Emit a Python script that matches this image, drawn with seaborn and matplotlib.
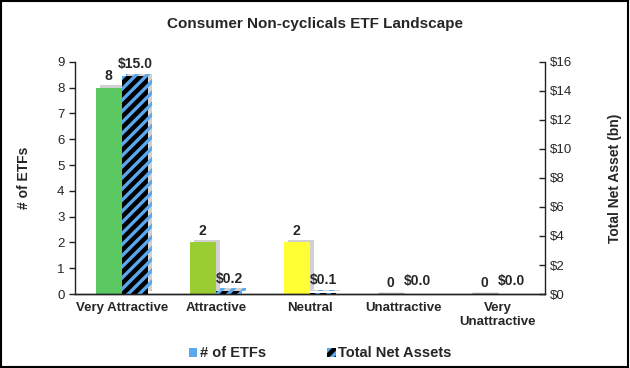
import matplotlib
matplotlib.use("Agg")
import matplotlib.pyplot as plt
import matplotlib.patheffects as pe
from matplotlib.patches import Patch, Rectangle
import numpy as np
import pandas as pd
import seaborn as sns

# ---- data ----
categories = ["Very Attractive", "Attractive", "Neutral", "Unattractive", "Very\nUnattractive"]
num_etfs = [8, 2, 2, 0, 0]
net_assets_bn = [15.0, 0.2, 0.1, 0.0, 0.0]
count_colors = ["#5CC861", "#9ACD32", "#FFFF33", "#E03C31", "#A51C1C"]
series_names = ["# of ETFs", "Total Net Assets"]

sns.set_style("white")
plt.rcParams["font.family"] = ["Liberation Sans", "DejaVu Sans"]
plt.rcParams["hatch.linewidth"] = 2.4

df_counts = pd.DataFrame({"category": categories, "value": num_etfs, "series": series_names[0]})
df_assets = pd.DataFrame({"category": categories, "value": net_assets_bn, "series": series_names[1]})

fig = plt.figure(figsize=(6.3, 3.68), dpi=100)
ax1 = fig.add_axes([0.119, 0.201, 0.746, 0.631])
ax2 = ax1.twinx()

sns.barplot(data=df_counts, x="category", y="value", hue="series", hue_order=series_names,
            order=categories, dodge=True, width=0.56, gap=0.0, errorbar=None,
            ax=ax1, legend=False, saturation=1)
sns.barplot(data=df_assets, x="category", y="value", hue="series", hue_order=series_names,
            order=categories, dodge=True, width=0.56, gap=0.0, errorbar=None,
            ax=ax2, legend=False, saturation=1)


def real_container(ax):
    for c in ax.containers:
        if len(c) and all(b is not None for b in c):
            return c
    return None


c1 = real_container(ax1)
c2 = real_container(ax2)

shadow = [pe.SimplePatchShadow(offset=(3, 2), shadow_rgbFace="#9a9a9a", alpha=0.45), pe.Normal()]

hatch_blue = "#5AA9EE"
for p, c, v in zip(c1, count_colors, num_etfs):
    p.set_facecolor(c)
    if v == 0:
        p.set_edgecolor("#b0b0b0")
        p.set_linewidth(2.5)
    else:
        p.set_edgecolor("none")
    p.set_path_effects(shadow)
for p in c2:
    p.set_facecolor("black")
    p.set_edgecolor(hatch_blue)
    p.set_hatch("///")
    p.set_linewidth(0)
    p.set_path_effects(shadow)

ax1.set_ylim(0, 9)
ax2.set_ylim(0, 16)
ax1.set_xlim(-0.5, len(categories) - 0.5)
ax1.set_yticks(range(0, 10))
ax2.set_yticks(range(0, 17, 2))
ax2.set_yticklabels([f"\\${v}" for v in range(0, 17, 2)])

ax1.bar_label(c1, labels=[f"{v}" for v in num_etfs], padding=3,
              fontsize=10, fontweight="bold")
ax2.bar_label(c2, labels=[f"\\${v:.1f}" for v in net_assets_bn], padding=4,
              fontsize=10, fontweight="bold")

ax1.set_xlabel("")
ax1.set_ylabel("# of ETFs", fontsize=10, fontweight="bold", labelpad=19)
ax2.set_ylabel("Total Net Asset (bn)", fontsize=10, fontweight="bold", labelpad=26)
ax2.set_xlabel("")

ax1.tick_params(axis="x", which="major", length=0, labelsize=9.5, pad=6)
for t in ax1.get_xticklabels():
    t.set_fontweight("bold")
ax1.set_xticks(np.arange(-0.5, len(categories), 1.0), minor=True)
ax1.tick_params(axis="x", which="minor", length=4, direction="out", width=1, color="#222222")
ax1.tick_params(axis="y", length=4, direction="out", width=1, labelsize=9.5, left=True, color="#222222")
ax2.tick_params(axis="y", length=4, direction="in", width=1, labelsize=9.5, right=True, color="#222222")

for ax in (ax1, ax2):
    ax.spines["top"].set_visible(False)
    for s in ("left", "right", "bottom"):
        ax.spines[s].set_color("#222222")
        ax.spines[s].set_linewidth(1)
ax1.spines["right"].set_visible(False)
ax2.spines["left"].set_visible(False)

fig.suptitle("Consumer Non-cyclicals ETF Landscape", y=0.955, fontsize=11, fontweight="bold")

handles = [Patch(facecolor=hatch_blue, edgecolor="none"),
           Patch(facecolor="black", edgecolor=hatch_blue, hatch="///", linewidth=0)]
fig.legend(handles, series_names, loc="center", bbox_to_anchor=(0.508, 0.04), ncol=2, frameon=False,
           prop={"weight": "bold", "size": 10.5}, handlelength=0.6, handleheight=0.6,
           handletextpad=0.15, columnspacing=4.2)

fig.patches.append(Rectangle((0.002, 0.003), 0.995, 0.993, transform=fig.transFigure,
                             fill=False, edgecolor="black", linewidth=1.5))

fig.savefig("out.png", dpi=100)
